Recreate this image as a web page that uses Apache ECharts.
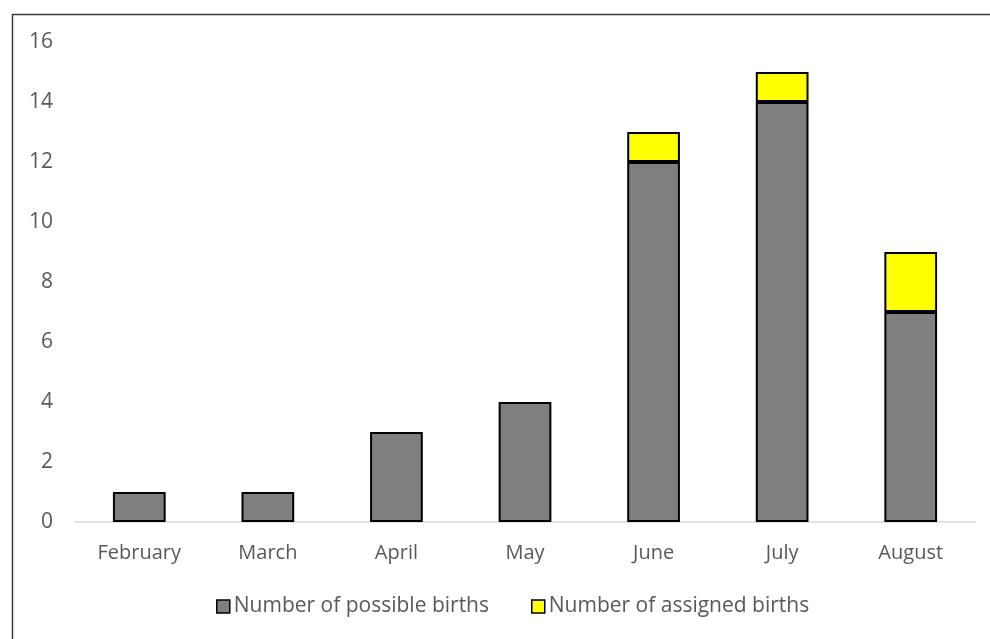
<!DOCTYPE html>
<html>
<head>
<meta charset="utf-8">
<script src="https://cdn.jsdelivr.net/npm/echarts@6/dist/echarts.min.js"></script>
<style>
  html, body { margin: 0; padding: 0; background: #ffffff; }
  #chart { width: 990px; height: 639px; }
</style>
</head>
<body>
<div id="chart"></div>
<script>
// Monthly birth counts, stacked: possible births plus assigned births on top
const months = ['February', 'March', 'April', 'May', 'June', 'July', 'August'];
const possibleBirths = [1, 1, 3, 4, 12, 14, 7];
const assignedBirths = [null, null, null, null, 1, 1, 2];
const yTicks = { min: 0, max: 16, step: 2 };

const FONT = '"Open Sans", "Noto Sans", sans-serif';
const TEXT = '#595959';

const chart = echarts.init(document.getElementById('chart'), null, { renderer: 'canvas' });

chart.setOption({
  animation: false,
  backgroundColor: '#ffffff',
  grid: { left: 75, right: 15, top: 42, bottom: 117, containLabel: false },
  graphic: [{
    type: 'rect',
    left: 10, top: 12,
    shape: { width: 1000, height: 660 },
    style: { fill: 'none', stroke: '#3a3a3a', lineWidth: 1.5 },
    silent: true
  }],
  legend: {
    top: 591,
    left: 211,
    itemWidth: 13,
    itemHeight: 13,
    itemGap: 42,
    icon: 'rect',
    textStyle: { fontFamily: FONT, fontSize: 21, color: TEXT, padding: [0, 0, 0, -1] },
    data: [
      { name: 'Number of possible births', itemStyle: { borderColor: '#000', borderWidth: 1.5 } },
      { name: 'Number of assigned births', itemStyle: { borderColor: '#000', borderWidth: 1.5 } }
    ]
  },
  xAxis: {
    type: 'category',
    data: months,
    axisLine: { show: true, lineStyle: { color: '#d9d9d9', width: 1.5 } },
    axisTick: { show: false },
    axisLabel: { fontFamily: FONT, fontSize: 20, color: TEXT, margin: 21 }
  },
  yAxis: {
    type: 'value',
    min: yTicks.min,
    max: yTicks.max,
    interval: yTicks.step,
    axisLine: { show: false },
    axisTick: { show: false },
    splitLine: { show: false },
    axisLabel: { fontFamily: FONT, fontSize: 21, color: TEXT, margin: 22 }
  },
  series: [
    {
      name: 'Number of possible births',
      type: 'bar',
      stack: 'births',
      barWidth: '41%',
      data: possibleBirths,
      itemStyle: { color: '#7f7f7f', borderColor: '#000000', borderWidth: 2 }
    },
    {
      name: 'Number of assigned births',
      type: 'bar',
      stack: 'births',
      barWidth: '41%',
      data: assignedBirths,
      itemStyle: { color: '#ffff00', borderColor: '#000000', borderWidth: 2 }
    }
  ]
});
</script>
</body>
</html>
